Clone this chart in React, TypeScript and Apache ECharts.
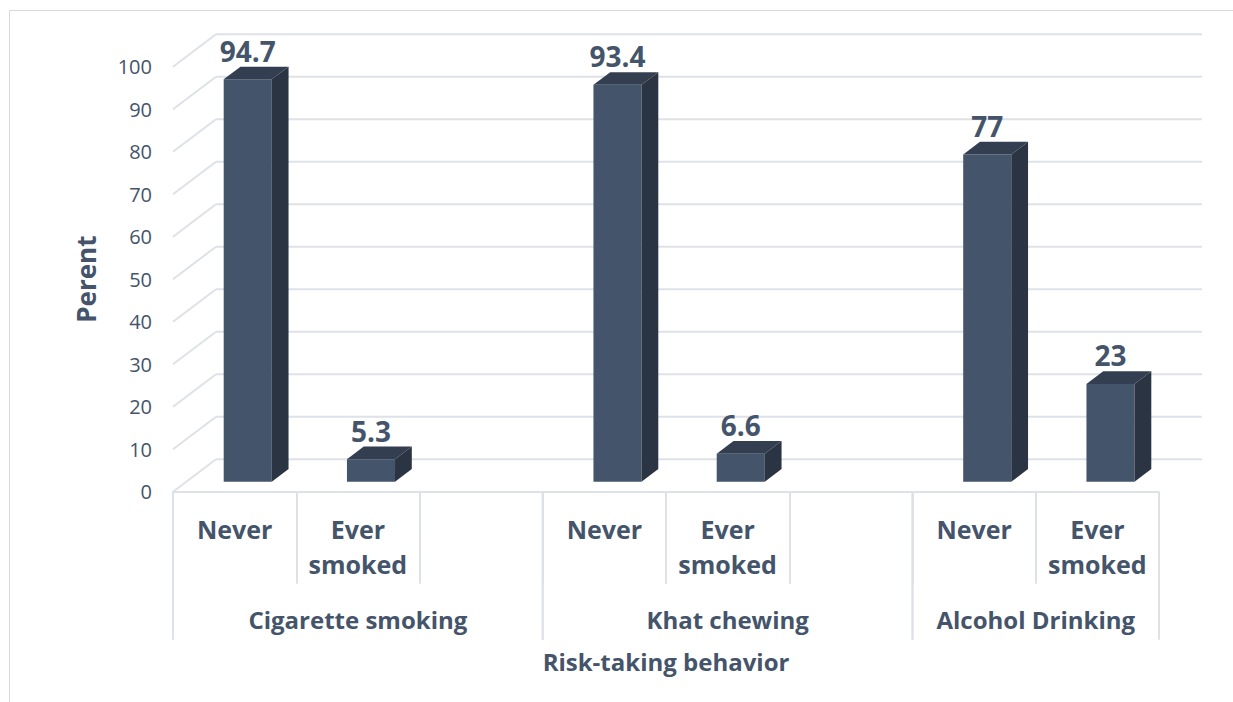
import React, { useEffect, useRef } from "react";
import * as echarts from "echarts";

const categories = ["Never", "Ever\nsmoked", "", "Never", "Ever\nsmoked", "", "Never", "Ever\nsmoked"];
const values: (number | null)[] = [94.7, 5.3, null, 93.4, 6.6, null, 77, 23];
const groupNames = ["Cigarette smoking", "Khat chewing", "Alcohol Drinking"];
const groupStart = [0, 3, 6];
const groupEnd = [3, 6, 8];
const yTicks = [0, 10, 20, 30, 40, 50, 60, 70, 80, 90, 100];

const TEXT = "#44546A";
const GRID = "#DEE2E8";
const FRONT = "#44546A";
const TOP = "#333F50";
const SIDE = "#2A3442";
const FONT = "'Open Sans', 'Noto Sans', sans-serif";
const DX = 43;
const DY = -32.5;
const BAR_W = 0.39;
const D0 = 0.305;
const D1 = 0.695;

export default function App() {
  const ref = useRef<HTMLDivElement>(null);
  useEffect(() => {
    document.body.style.margin = "0";
    if (!ref.current) return;
    const chart = echarts.init(ref.current, null, { renderer: "svg" });

    const gridRender = (params: any, api: any) => {
      const v = api.value(1);
      const p = api.coord([0, v]);
      const band = api.size([1, 0])[0];
      const left = p[0] - band / 2;
      const right = left + band * categories.length;
      const style = { stroke: GRID, lineWidth: 2, fill: "none" };
      return {
        type: "group",
        children: [
          { type: "line", shape: { x1: left, y1: p[1], x2: left + DX, y2: p[1] + DY }, style },
          { type: "line", shape: { x1: left + DX, y1: p[1] + DY, x2: right + DX, y2: p[1] + DY }, style },
        ],
      };
    };

    const barRender = (params: any, api: any) => {
      const i = api.value(0);
      const v = api.value(1);
      const base = api.coord([i, 0]);
      const top = api.coord([i, v]);
      const band = api.size([1, 0])[0];
      const w = band * BAR_W;
      const x1 = base[0] - w / 2 + D0 * DX;
      const x2 = x1 + w;
      const yb = base[1] + D0 * DY;
      const yt = top[1] + D0 * DY;
      const ox = (D1 - D0) * DX;
      const oy = (D1 - D0) * DY;
      return {
        type: "group",
        children: [
          { type: "rect", shape: { x: x1, y: yt, width: w, height: yb - yt }, style: { fill: FRONT } },
          {
            type: "polygon",
            shape: { points: [[x1, yt], [x2, yt], [x2 + ox, yt + oy], [x1 + ox, yt + oy]] },
            style: { fill: TOP },
          },
          {
            type: "polygon",
            shape: { points: [[x2, yt], [x2 + ox, yt + oy], [x2 + ox, yb + oy], [x2, yb]] },
            style: { fill: SIDE },
          },
          {
            type: "text",
            x: (x1 + x2) / 2,
            y: yt + oy - 16,
            style: {
              text: String(v),
              fill: TEXT,
              font: `bold 28px ${FONT}`,
              align: "center",
              verticalAlign: "middle",
            },
          },
        ],
      };
    };

    const groupRender = (params: any, api: any) => {
      const s = api.value(0);
      const e = api.value(1);
      const k = params.dataIndex;
      const band = api.size([1, 0])[0];
      const ps = api.coord([s, 0]);
      const pe = api.coord([e - 1, 0]);
      const xs = ps[0] - band / 2;
      const xe = pe[0] + band / 2;
      const y0 = ps[1];
      const style = { stroke: GRID, lineWidth: 2, fill: "none" };
      return {
        type: "group",
        children: [
          { type: "line", shape: { x1: xs, y1: y0, x2: xs, y2: y0 + 148 }, style },
          { type: "line", shape: { x1: xe, y1: y0, x2: xe, y2: y0 + 148 }, style },
          {
            type: "text",
            x: (xs + xe) / 2,
            y: y0 + 128,
            style: {
              text: groupNames[k],
              fill: TEXT,
              font: `bold 24px ${FONT}`,
              align: "center",
              verticalAlign: "middle",
            },
          },
        ],
      };
    };

    chart.setOption({
      animation: false,
      backgroundColor: "#ffffff",
      graphic: [
        {
          type: "rect",
          silent: true,
          shape: { x: 9.5, y: 10.5, width: 1300, height: 800 },
          style: { fill: "none", stroke: "#D9D9D9", lineWidth: 1 },
        },
      ],
      grid: { left: 173, right: 74, top: 66.7, bottom: 210.3, containLabel: false },
      xAxis: {
        type: "category",
        data: categories,
        axisLine: { show: true, lineStyle: { color: GRID, width: 2 } },
        axisTick: { show: true, interval: 0, length: 92, lineStyle: { color: GRID, width: 2 } },
        axisLabel: {
          interval: 0,
          color: TEXT,
          fontFamily: FONT,
          fontWeight: "bold",
          fontSize: 25,
          lineHeight: 35,
          margin: 20,
        },
        splitLine: { show: false },
        name: "Risk-taking behavior",
        nameLocation: "middle",
        nameGap: 158,
        nameTextStyle: { color: TEXT, fontFamily: FONT, fontWeight: "bold", fontSize: 24 },
      },
      yAxis: {
        type: "value",
        min: 0,
        max: 100,
        interval: 10,
        axisLine: { show: false },
        axisTick: { show: false },
        splitLine: { show: false },
        axisLabel: { color: TEXT, fontFamily: FONT, fontSize: 20, margin: 21 },
        name: "Perent",
        nameLocation: "middle",
        nameGap: 74,
        nameRotate: 90,
        nameTextStyle: { color: TEXT, fontFamily: FONT, fontWeight: "bold", fontSize: 26 },
      },
      series: [
        {
          type: "custom",
          name: "grid",
          silent: true,
          clip: false,
          renderItem: gridRender,
          encode: { x: 0, y: 1 },
          data: yTicks.map((v) => [0, v]),
          z: 1,
        },
        {
          type: "custom",
          name: "groups",
          silent: true,
          clip: false,
          renderItem: groupRender,
          encode: { x: 0, y: 2 },
          data: groupStart.map((s, k) => [s, groupEnd[k], 0]),
          z: 1,
        },
        {
          type: "custom",
          name: "Percent",
          clip: false,
          renderItem: barRender,
          encode: { x: 0, y: 1 },
          data: values
            .map((v, i) => (v === null ? null : [i, v]))
            .filter((d) => d !== null),
          z: 3,
        },
      ],
    });
    return () => chart.dispose();
  }, []);
  return <div ref={ref} style={{ width: 1233, height: 702 }} />;
}
